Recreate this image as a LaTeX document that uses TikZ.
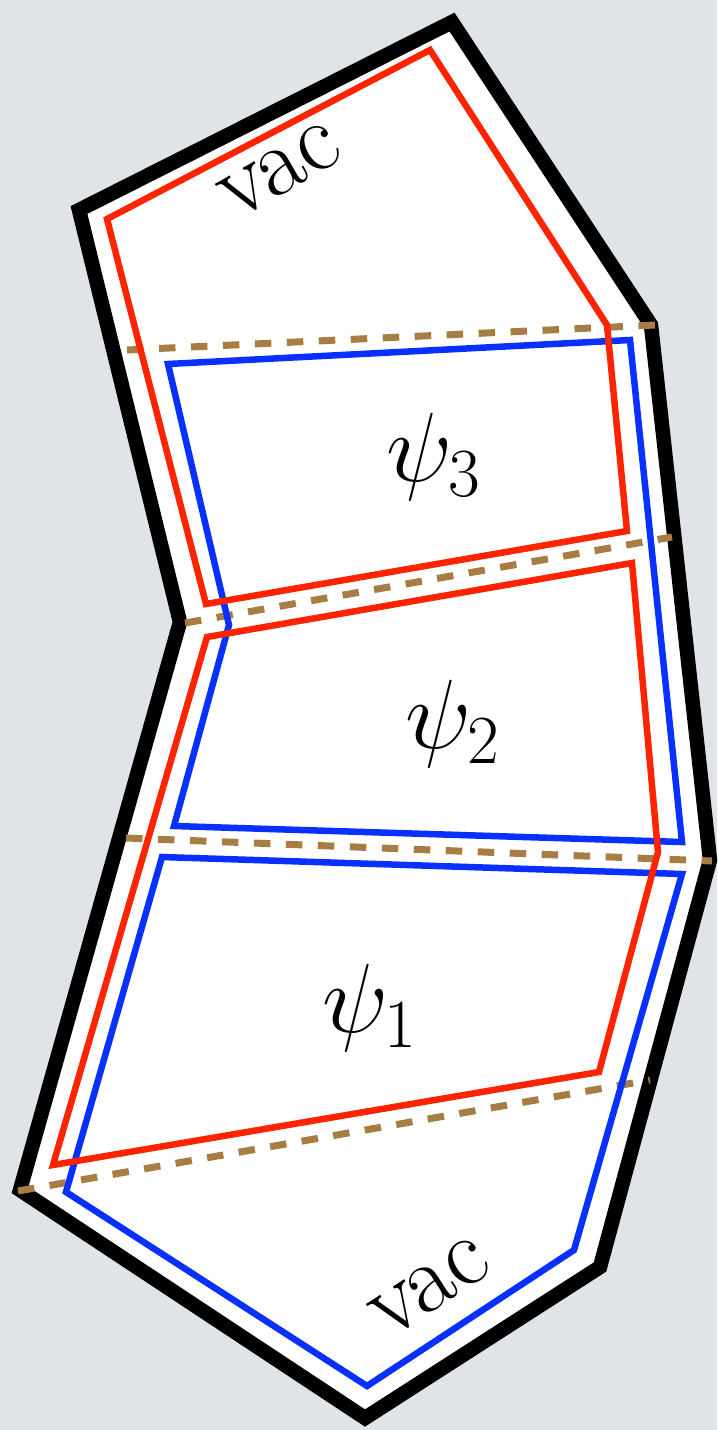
\RequirePackage{fix-cm}
\documentclass[tikz,border=0pt]{standalone}
\definecolor{bgcol}{RGB}{224,227,232}
\definecolor{loopred}{RGB}{255,36,0}
\definecolor{loopblue}{RGB}{8,48,255}
\definecolor{cutbrown}{RGB}{168,125,68}
\begin{document}
\begin{tikzpicture}[x=0.1mm, y=-0.1mm,
  wall/.style={draw=black, line width=1.45mm, fill=white},
  redloop/.style={draw=loopred, line width=0.65mm},
  blueloop/.style={draw=loopblue, line width=0.65mm},
  cut/.style={draw=cutbrown, line width=0.7mm, dash pattern=on 1.65mm off 1.55mm},
  lab/.style={font=\fontsize{28}{30}\selectfont, inner sep=0pt}]
\fill[bgcol] (0,0) rectangle (717,1430);
\useasboundingbox (0,0) rectangle (717,1430);
% outer boundary
\path[wall] (452,22) -- (79,210) -- (180,622) -- (20,1190) -- (365,1418) -- (600,1267) -- (710,860) -- (651,325) -- cycle;
% cuts
\draw[cut] (127,350) -- (655,325);
\draw[cut] (185,623) -- (672,537);
\draw[cut] (126,838) -- (712,861);
\draw[cut] (18,1191) -- (650,1080);
% blue loops
\draw[blueloop] (168,364) -- (630,340) -- (682,842) -- (174,826) -- (229,625) -- cycle;
\draw[blueloop] (162,857) -- (682,874) -- (574,1250) -- (367,1386) -- (66,1192) -- cycle;
% red loops
\draw[redloop] (430,50) -- (107,219) -- (206,604) -- (627,531) -- (607,325) -- cycle;
\draw[redloop] (207,637) -- (632,563) -- (658,852) -- (599,1072) -- (53,1165) -- cycle;
% labels
\node[lab, rotate=30] (vactop) at (280,171) {vac};
\node[lab] (psi3) at (434,457) {$\psi_3$};
\node[lab] (psi2) at (453,724) {$\psi_2$};
\node[lab] (psi1) at (370,1008) {$\psi_1$};
\node[lab, rotate=33] (vacbot) at (430,1288) {vac};
\end{tikzpicture}
\end{document}
